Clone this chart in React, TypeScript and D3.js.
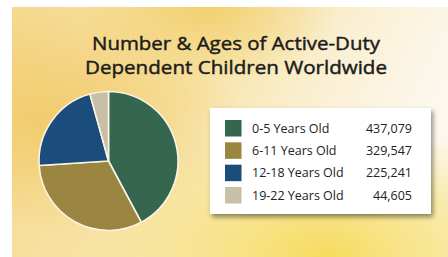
import React, { useEffect, useRef } from 'react';
import * as d3 from 'd3';

const categories = ['0-5 Years Old', '6-11 Years Old', '12-18 Years Old', '19-22 Years Old'];
const values = [437079, 329547, 225241, 44605];
const colors = ['#356650', '#9a8541', '#1a4c7c', '#c8bfa6'];
const titleLines = ['Number & Ages of Active-Duty', 'Dependent Children Worldwide'];

export default function App() {
  const ref = useRef<SVGSVGElement>(null);

  useEffect(() => {
    const svg = d3.select(ref.current);
    svg.selectAll('*').remove();

    const W = 448, H = 257;
    const defs = svg.append('defs');

    // watercolor-ish background
    const g1 = defs.append('linearGradient').attr('id', 'bgL')
      .attr('x1', '0').attr('y1', '0').attr('x2', '1').attr('y2', '0.3');
    g1.append('stop').attr('offset', '0').attr('stop-color', '#f5d98f');
    g1.append('stop').attr('offset', '0.45').attr('stop-color', '#f7e3a6');
    g1.append('stop').attr('offset', '0.75').attr('stop-color', '#faf0d4');
    g1.append('stop').attr('offset', '1').attr('stop-color', '#fcf8ee');

    const g2 = defs.append('radialGradient').attr('id', 'bgY')
      .attr('cx', '0.72').attr('cy', '1').attr('r', '0.55');
    g2.append('stop').attr('offset', '0').attr('stop-color', '#f5da55').attr('stop-opacity', 0.95);
    g2.append('stop').attr('offset', '0.6').attr('stop-color', '#f7e07a').attr('stop-opacity', 0.6);
    g2.append('stop').attr('offset', '1').attr('stop-color', '#f7e07a').attr('stop-opacity', 0);

    const g3 = defs.append('radialGradient').attr('id', 'bgO')
      .attr('cx', '0.08').attr('cy', '0.45').attr('r', '0.45');
    g3.append('stop').attr('offset', '0').attr('stop-color', '#f1c865').attr('stop-opacity', 0.85);
    g3.append('stop').attr('offset', '1').attr('stop-color', '#f1c865').attr('stop-opacity', 0);

    const g4 = defs.append('radialGradient').attr('id', 'bgT')
      .attr('cx', '0.45').attr('cy', '0').attr('r', '0.3');
    g4.append('stop').attr('offset', '0').attr('stop-color', '#f0c95a').attr('stop-opacity', 0.7);
    g4.append('stop').attr('offset', '1').attr('stop-color', '#f0c95a').attr('stop-opacity', 0);

    const shadow = defs.append('filter').attr('id', 'shadow')
      .attr('x', '-10%').attr('y', '-10%').attr('width', '130%').attr('height', '140%');
    shadow.append('feDropShadow').attr('dx', 2).attr('dy', 3).attr('stdDeviation', 2.5)
      .attr('flood-color', '#000').attr('flood-opacity', 0.45);

    svg.append('rect').attr('width', W).attr('height', H).attr('fill', '#ffffff');
    const bg = svg.append('g');
    ['url(#bgL)', 'url(#bgO)', 'url(#bgT)', 'url(#bgY)'].forEach(f => {
      bg.append('rect').attr('x', 12).attr('y', 7).attr('width', W - 12).attr('height', H - 7).attr('fill', f);
    });

    // title (regular weight thickened slightly to look medium)
    svg.append('g').selectAll('text').data(titleLines).join('text')
      .attr('x', 236).attr('y', (d, i) => 50 + i * 23.5)
      .attr('text-anchor', 'middle')
      .attr('font-family', '"Open Sans", sans-serif')
      .attr('font-size', 19)
      .attr('fill', '#1c1c1c')
      .attr('stroke', '#1c1c1c')
      .attr('stroke-width', 0.45)
      .attr('textLength', (d, i) => (i === 0 ? 288 : 302))
      .attr('lengthAdjust', 'spacingAndGlyphs')
      .text(d => d);

    // pie
    const cx = 108.5, cy = 161, r = 69.5;
    const pie = d3.pie<number>().sort(null).value(d => d);
    const arc = d3.arc<d3.PieArcDatum<number>>().innerRadius(0).outerRadius(r);
    const pg = svg.append('g').attr('transform', `translate(${cx},${cy})`);
    pg.selectAll('path').data(pie(values)).join('path')
      .attr('d', arc)
      .attr('fill', (d, i) => colors[i])
      .attr('stroke', '#fbf4e2')
      .attr('stroke-width', 1.6)
      .attr('stroke-linejoin', 'round');

    // legend
    const lx = 210, ly = 108, lw = 221, lh = 106;
    const lg = svg.append('g');
    lg.append('rect').attr('x', lx).attr('y', ly).attr('width', lw).attr('height', lh)
      .attr('fill', '#ffffff').attr('filter', 'url(#shadow)');

    const rowY = d3.scalePoint<string>().domain(categories).range([128, 195]);
    const fmt = d3.format(',');
    const rows = lg.selectAll('g.row').data(categories).join('g').attr('class', 'row')
      .attr('transform', d => `translate(0,${rowY(d)})`);
    rows.append('rect').attr('x', 225).attr('y', -8).attr('width', 16.5).attr('height', 16.5)
      .attr('fill', (d, i) => colors[i]);
    rows.append('text').attr('x', 252).attr('y', 4.5)
      .attr('font-family', '"Open Sans", sans-serif')
      .attr('font-size', 12.5).attr('fill', '#222')
      .text(d => d);
    rows.append('text').attr('x', 412).attr('y', 4.5)
      .attr('text-anchor', 'end')
      .attr('font-family', '"Open Sans", sans-serif')
      .attr('font-size', 12.5).attr('fill', '#222')
      .text((d, i) => fmt(values[i]));
  }, []);

  return (
    <svg ref={ref} width={448} height={257}
      style={{ position: 'absolute', left: 0, top: 0, display: 'block' }} />
  );
}
